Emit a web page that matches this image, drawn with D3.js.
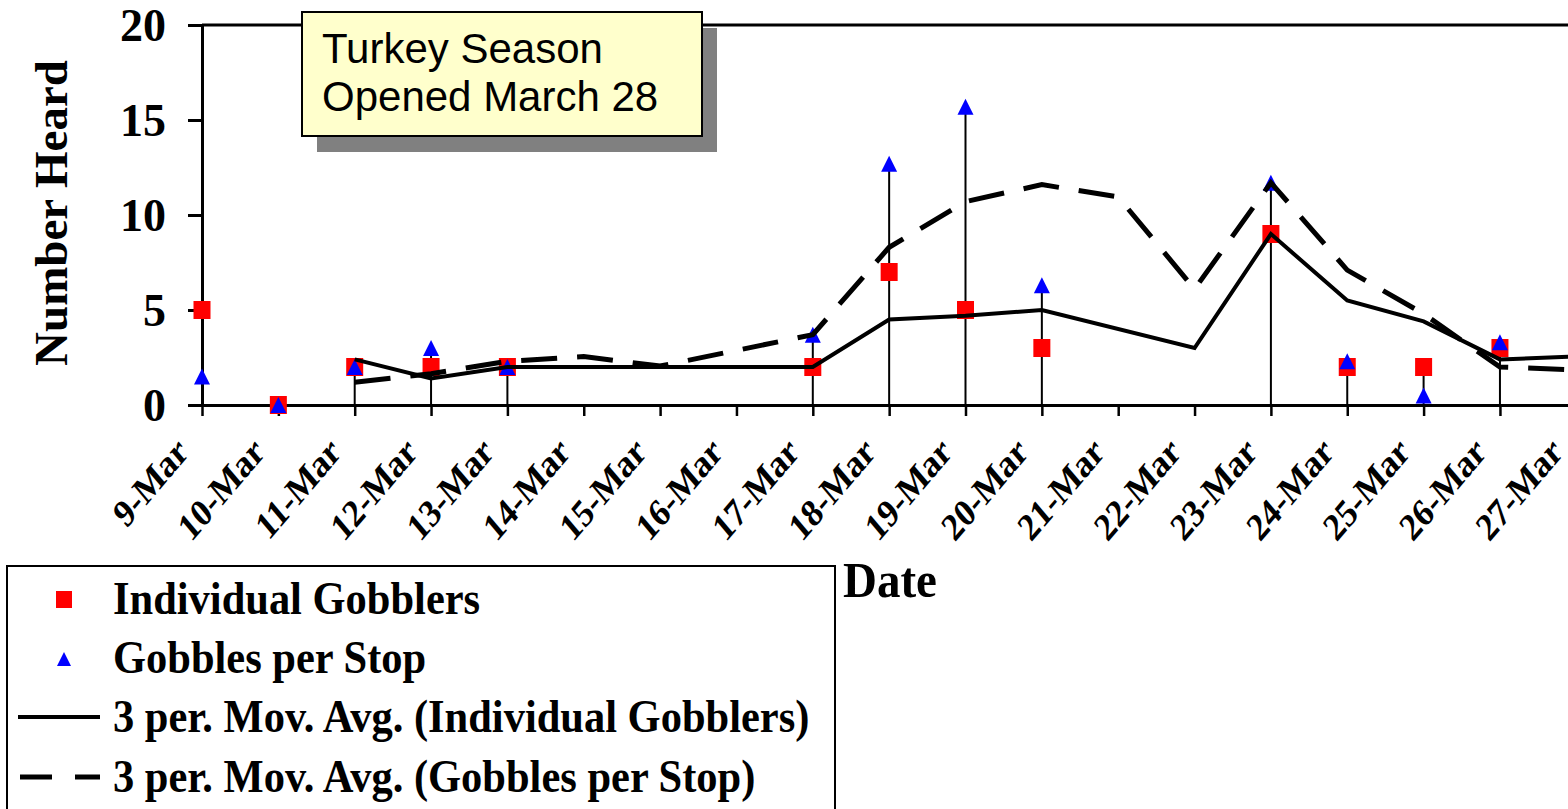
<!DOCTYPE html>
<html>
<head>
<meta charset="utf-8">
<script src="https://cdn.jsdelivr.net/npm/d3@7"></script>
<style>
  html, body { margin: 0; padding: 0; background: #ffffff; }
  svg { display: block; }
</style>
</head>
<body>
<svg id="chart" width="1568" height="809"></svg>
<script>
// ---------- data ----------
const dates = ["9-Mar","10-Mar","11-Mar","12-Mar","13-Mar","14-Mar","15-Mar","16-Mar","17-Mar",
               "18-Mar","19-Mar","20-Mar","21-Mar","22-Mar","23-Mar","24-Mar","25-Mar","26-Mar","27-Mar"];
const individualGobblers = [5, 0, 2, 2, 2, null, null, null, 2, 7, 5, 3, null, null, 9, 2, 2, 3, null];
const gobblesPerStop     = [1.5, 0, 2, 3, 2, null, null, null, 3.7, 12.7, 15.7, 6.3, null, null, 11.7, 2.3, 0.5, 3.3, null];
const movAvgIndividual   = [null, null, 2.4, 1.4, 2.0, null, null, null, 2.0, 4.5, 4.7, 5.0, null, 3.0, 9.0, 5.5, 4.4, 2.4, 2.55];
const movAvgGobbles      = [null, null, 1.2, 1.65, 2.3, 2.55, 2.05, null, 3.7, 8.3, 10.7, 11.6, 10.95, 6.1, 11.7, 7.1, 4.8, 2.0, 1.85];
const yTicks = [0, 5, 10, 15, 20];
const legendLabels = ["Individual Gobblers", "Gobbles per Stop",
                      "3 per. Mov. Avg. (Individual Gobblers)", "3 per. Mov. Avg. (Gobbles per Stop)"];
const noteLines = ["Turkey Season", "Opened March 28"];
const yTitle = "Number Heard";
const xTitle = "Date";

// ---------- layout ----------
const serif = "'Liberation Serif','Times New Roman',Times,serif";
const sans = "'Liberation Sans',Arial,Helvetica,sans-serif";
const svg = d3.select("#chart");

const x = d3.scaleLinear().domain([0, dates.length - 1]).range([202, 202 + 18 * 76.35]);
const y = d3.scaleLinear().domain([0, 20]).range([405, 25]);

// ---------- drop lines ----------
const drops = dates.map((d, i) => {
  const vals = [individualGobblers[i], gobblesPerStop[i]].filter(v => v != null);
  return vals.length ? { i, v: d3.max(vals) } : null;
}).filter(d => d);
svg.append("g").selectAll("line").data(drops).join("line")
  .attr("x1", d => x(d.i)).attr("x2", d => x(d.i))
  .attr("y1", y(0)).attr("y2", d => y(d.v))
  .attr("stroke", "#000").attr("stroke-width", 2);

// ---------- axes ----------
const yAxis = svg.append("g").attr("transform", `translate(${x(0)},0)`)
  .call(d3.axisLeft(y).tickValues(yTicks).tickSize(14).tickPadding(22).tickFormat(d3.format("d")));
yAxis.select(".domain").attr("stroke", "#000").attr("stroke-width", 3);
yAxis.selectAll(".tick line").attr("stroke", "#000").attr("stroke-width", 3);
yAxis.selectAll(".tick text").attr("font-family", serif).attr("font-weight", "bold")
  .attr("font-size", 46).attr("fill", "#000").attr("dy", "0.34em");

// top border of plot area
svg.append("line").attr("x1", x(0)).attr("x2", 1568).attr("y1", y(20)).attr("y2", y(20))
  .attr("stroke", "#000").attr("stroke-width", 3);

const xAxis = svg.append("g").attr("transform", `translate(0,${y(0)})`)
  .call(d3.axisBottom(x).tickValues(d3.range(dates.length)).tickSize(11).tickSizeOuter(0).tickFormat(""));
xAxis.select(".domain").attr("stroke", "#000").attr("stroke-width", 3);
xAxis.selectAll(".tick line").attr("stroke", "#000").attr("stroke-width", 2.5);

// x tick labels, rotated (slightly stretched vertically like the reference)
svg.append("g").selectAll("text").data(dates).join("text")
  .attr("transform", (d, i) => `translate(${x(i) - 12},${454}) scale(1,1.18) rotate(-45)`)
  .attr("text-anchor", "end")
  .attr("font-family", serif).attr("font-weight", "bold").attr("font-size", 33)
  .text(d => d);

// axis titles
svg.append("text").attr("transform", "translate(67,213) rotate(-90)")
  .attr("text-anchor", "middle").attr("font-family", serif).attr("font-weight", "bold")
  .attr("font-size", 47).text(yTitle);
svg.append("text").attr("transform", "translate(843,597) scale(1,1.08)")
  .attr("font-family", serif).attr("font-weight", "bold").attr("font-size", 47).text(xTitle);

// ---------- markers ----------
const sqW = 17, sqH = 18;
svg.append("g").selectAll("rect")
  .data(individualGobblers.map((v, i) => ({ i, v })).filter(d => d.v != null))
  .join("rect")
  .attr("x", d => x(d.i) - sqW / 2).attr("y", d => y(d.v) - sqH / 2)
  .attr("width", sqW).attr("height", sqH).attr("fill", "#ff0000");

const tri = (cx, cy, w, h) => `M${cx},${cy - h / 2}L${cx + w / 2},${cy + h / 2}L${cx - w / 2},${cy + h / 2}Z`;
svg.append("g").selectAll("path")
  .data(gobblesPerStop.map((v, i) => ({ i, v })).filter(d => d.v != null))
  .join("path")
  .attr("d", d => tri(x(d.i), y(d.v), 16, 16)).attr("fill", "#0000ff");

// ---------- moving average trendlines ----------
const line = d3.line().x(d => x(d.i)).y(d => y(d.v));
svg.append("path")
  .datum(movAvgIndividual.map((v, i) => ({ i, v })).filter(d => d.v != null))
  .attr("d", line).attr("fill", "none").attr("stroke", "#000").attr("stroke-width", 4)
  .attr("stroke-linejoin", "miter");
svg.append("path")
  .datum(movAvgGobbles.map((v, i) => ({ i, v })).filter(d => d.v != null))
  .attr("d", line).attr("fill", "none").attr("stroke", "#000").attr("stroke-width", 5)
  .attr("stroke-dasharray", "36,20");

// ---------- annotation box ----------
const note = svg.append("g");
note.append("rect").attr("x", 317).attr("y", 28).attr("width", 400).attr("height", 124).attr("fill", "#808080");
note.append("rect").attr("x", 302).attr("y", 12).attr("width", 400).attr("height", 124)
  .attr("fill", "#ffffcc").attr("stroke", "#000").attr("stroke-width", 2);
note.selectAll("text").data(noteLines).join("text")
  .attr("x", 322).attr("y", (d, i) => 63 + i * 48)
  .attr("font-family", sans).attr("font-size", 42).attr("fill", "#000").text(d => d);

// ---------- legend ----------
const leg = svg.append("g");
leg.append("rect").attr("x", 7).attr("y", 566).attr("width", 828).attr("height", 270)
  .attr("fill", "#fff").attr("stroke", "#000").attr("stroke-width", 2);
const rowBase = [614, 673, 732, 792];
leg.selectAll("text.lt").data(legendLabels).join("text").attr("class", "lt")
  .attr("transform", (d, i) => `translate(113,${rowBase[i]}) scale(1,1.1)`)
  .attr("font-family", serif).attr("font-weight", "bold").attr("font-size", 42.5).text(d => d);
leg.append("rect").attr("x", 56).attr("y", 591).attr("width", 16).attr("height", 17).attr("fill", "#ff0000");
leg.append("path").attr("d", tri(64, 659, 14, 14)).attr("fill", "#0000ff");
leg.append("line").attr("x1", 18).attr("x2", 100).attr("y1", 717).attr("y2", 717)
  .attr("stroke", "#000").attr("stroke-width", 4);
leg.append("line").attr("x1", 20).attr("x2", 100).attr("y1", 777).attr("y2", 777)
  .attr("stroke", "#000").attr("stroke-width", 5).attr("stroke-dasharray", "32,23");
</script>
</body>
</html>
